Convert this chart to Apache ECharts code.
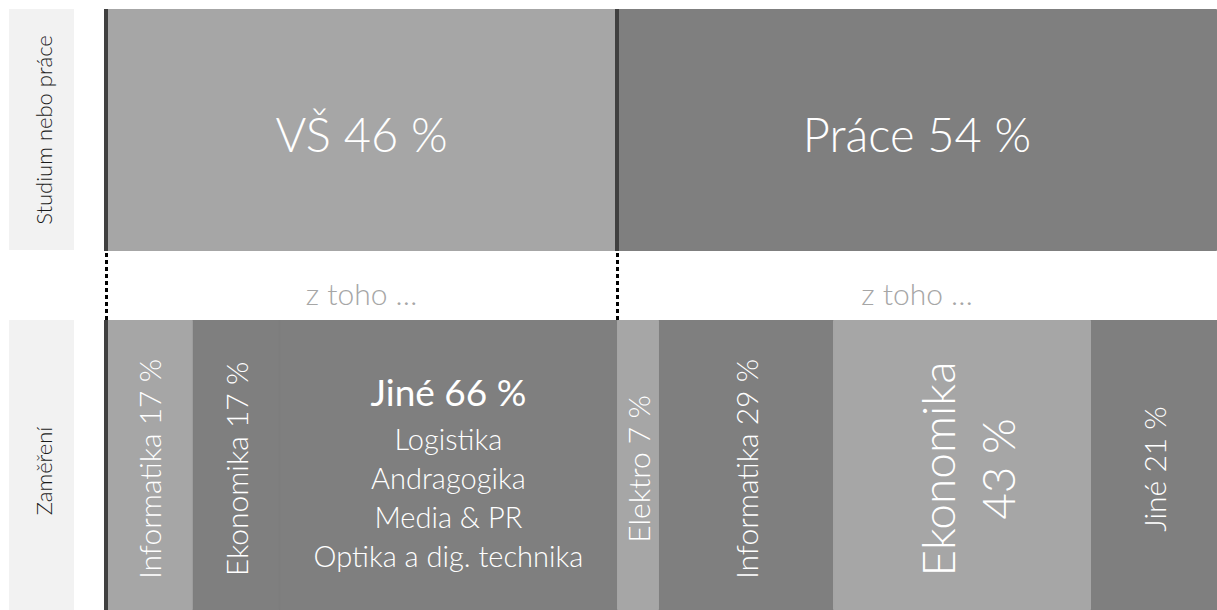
<!DOCTYPE html>
<html><head><meta charset="utf-8">
<script src="https://cdn.jsdelivr.net/npm/echarts@6/dist/echarts.min.js"></script>
<style>html,body{margin:0;padding:0;background:#fff}#c{width:1217px;height:610px}</style>
</head><body><div id="c"></div>
<script>
// ---- data ----
const rowLabels = ['Studium nebo práce', 'Zaměření'];
const topNames = ['VŠ', 'Práce'];
const topValues = [46, 54];
const bridgeLabel = 'z toho …';
const vsNames = ['Informatika', 'Ekonomika', 'Jiné'];
const vsShares = [17, 17, 66];
const praceNames = ['Elektro', 'Informatika', 'Ekonomika', 'Jiné'];
const praceShares = [7, 29, 43, 21];
const jineDetails = ['Logistika', 'Andragogika', 'Media & PR', 'Optika a dig. technika'];

// ---- styles ----
const LIGHT = '#a6a6a6', DARK = '#7f7f7f';
const topColors = [LIGHT, DARK];
const bottomColors = [[LIGHT, DARK, DARK], [LIGHT, DARK, LIGHT, DARK]];
const FONT = 'Lato';
const FW = 300;

const chart = echarts.init(document.getElementById('c'), null, { renderer: 'svg' });

const grids = [
  { left: 106, right: 0, top: 9, height: 242 },
  { left: 106, right: 0, top: 251, height: 69 },
  { left: 106, right: 0, top: 320, height: 290, show: true, backgroundColor: DARK, borderWidth: 0 }
];
const xAxes = grids.map((g, i) => ({ type: 'value', gridIndex: i, min: 0, max: 100, show: false }));
const yAxes = [[rowLabels[0]], ['bridge'], [rowLabels[1]]].map((d, i) => ({
  type: 'category', gridIndex: i, data: d, show: false
}));

const series = [];
const solidLine = { color: '#404040', width: 4, type: 'solid' };

function fillStyle(c) { return { color: c, borderColor: c, borderWidth: 1 }; }

// top row
topNames.forEach((n, i) => {
  const s = {
    type: 'bar', name: n, xAxisIndex: 0, yAxisIndex: 0, stack: 'top', barWidth: '100%',
    data: [topValues[i]], itemStyle: fillStyle(topColors[i]), silent: true,
    label: { show: true, position: 'inside', color: '#fff', fontFamily: FONT, fontWeight: FW, fontSize: 47,
      offset: [0, 4], formatter: () => n + ' ' + topValues[i] + ' %' }
  };
  if (i === 0) {
    s.markLine = { silent: true, symbol: 'none', animation: false, label: { show: false }, lineStyle: solidLine,
      data: [{ xAxis: 0 }, { xAxis: topValues[0] }] };
  }
  series.push(s);
});

// bridge row
topNames.forEach((n, i) => {
  const s = {
    type: 'bar', name: 'bridge-' + n, xAxisIndex: 1, yAxisIndex: 1, stack: 'bridge', barWidth: '100%',
    data: [topValues[i]], itemStyle: { color: 'rgba(0,0,0,0)' }, silent: true,
    label: { show: true, position: 'inside', color: LIGHT, fontFamily: FONT, fontWeight: FW, fontSize: 30,
      offset: [0, 7], formatter: () => bridgeLabel }
  };
  if (i === 0) {
    s.markLine = { silent: true, symbol: 'none', animation: false, label: { show: false },
      lineStyle: { color: '#000', width: 3, type: [4, 3] },
      data: [{ xAxis: 0 }, { xAxis: topValues[0] }] };
  }
  series.push(s);
});

// bottom row
const groups = [[vsNames, vsShares], [praceNames, praceShares]];
groups.forEach(([names, shares], g) => {
  const maxShare = Math.max(...shares);
  names.forEach((n, j) => {
    const share = shares[j];
    let label = { show: true, position: 'inside', rotate: 90, color: '#fff', fontFamily: FONT, fontWeight: FW,
      fontSize: 30, offset: [-4, 0], formatter: () => n + ' ' + share + ' %' };
    if (g === 0 && share === maxShare) {
      label = { show: true, position: 'inside', rotate: 0, color: '#fff', fontFamily: FONT, fontWeight: FW,
        offset: [0, 4],
        formatter: () => ['{t|' + n + ' ' + share + ' %}'].concat(jineDetails.map(d => '{d|' + d + '}')).join('\n'),
        rich: {
          t: { fontSize: 37, lineHeight: 56, color: '#fff', fontFamily: FONT, fontWeight: 400 },
          d: { fontSize: 29, lineHeight: 39, color: '#fff', fontFamily: FONT, fontWeight: FW }
        } };
    } else if (g === 1 && share === maxShare) {
      label.fontSize = 46; label.lineHeight = 60; label.offset = [-4, 5];
      label.formatter = () => n + '\n' + share + ' %';
    }
    const s = {
      type: 'bar', name: n + g, xAxisIndex: 2, yAxisIndex: 2, stack: 'bottom', barWidth: '100%',
      data: [share * topValues[g] / 100], itemStyle: fillStyle(bottomColors[g][j]), silent: true, label
    };
    if (g === 0 && j === 0) {
      s.markLine = { silent: true, symbol: 'none', animation: false, label: { show: false }, lineStyle: solidLine,
        data: [{ xAxis: 0 }] };
    }
    series.push(s);
  });
});

const boxText = { font: '300 22px Lato', fill: '#1a1a1a', align: 'center', verticalAlign: 'middle' };

chart.setOption({
  animation: false,
  grid: grids, xAxis: xAxes, yAxis: yAxes, series,
  graphic: [
    { type: 'rect', left: 9, top: 9, shape: { width: 65, height: 241 }, style: { fill: '#f2f2f2' }, silent: true },
    { type: 'text', x: 43, y: 130, rotation: Math.PI / 2, style: Object.assign({ text: rowLabels[0] }, boxText), silent: true },
    { type: 'rect', left: 9, top: 320, shape: { width: 65, height: 290 }, style: { fill: '#f2f2f2' }, silent: true },
    { type: 'text', x: 43, y: 471, rotation: Math.PI / 2, style: Object.assign({ text: rowLabels[1] }, boxText), silent: true }
  ]
});
</script></body></html>
